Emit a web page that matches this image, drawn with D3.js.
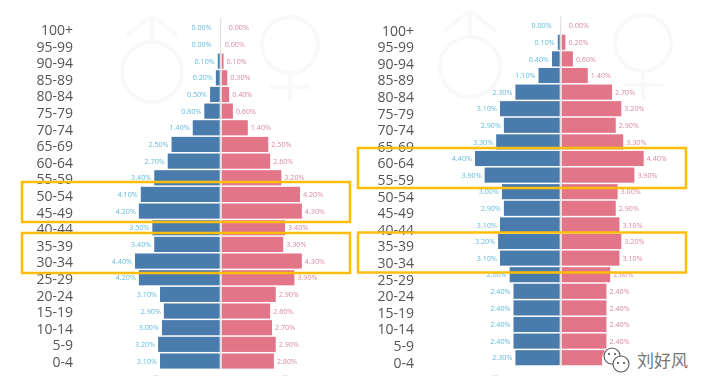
<!DOCTYPE html>
<html lang="en">
<head>
<meta charset="UTF-8">
<title>Population pyramids</title>
<script src="https://d3js.org/d3.v7.min.js"></script>
<style>
  html, body { margin: 0; background: #fff; }
  svg { display: block; font-family: "Open Sans", sans-serif; }
  .age { font-size: 14px; fill: #555; text-anchor: end; }
  .val { font-size: 7.2px; }
</style>
</head>
<body>
<div id="chart"></div>
<script>
var ages = ["100+","95-99","90-94","85-89","80-84","75-79","70-74","65-69","60-64","55-59","50-54",
            "45-49","40-44","35-39","30-34","25-29","20-24","15-19","10-14","5-9","0-4"];

var maleA   = [0,0,0.1,0.2,0.5,0.8,1.4,2.5,2.7,3.4,4.1,4.2,3.5,3.4,4.4,4.2,3.1,2.9,3.0,3.2,3.1];
var femaleA = [0,0,0.1,0.3,0.4,0.6,1.4,2.5,2.6,3.2,4.2,4.3,3.4,3.3,4.3,3.9,2.9,2.6,2.7,2.9,2.8];
var maleB   = [0,0.1,0.4,1.1,2.3,3.1,2.9,3.3,4.4,3.9,3.0,2.9,3.1,3.2,3.1,2.6,2.4,2.4,2.4,2.4,2.3];
var femaleB = [0,0.2,0.6,1.4,2.7,3.2,2.9,3.3,4.4,3.9,3.0,2.9,3.1,3.2,3.1,2.6,2.4,2.4,2.4,2.4,2.3];

var width = 709, height = 392;
var svg = d3.select("#chart").append("svg").attr("width", width).attr("height", height);

var defs = svg.append("defs");
defs.append("filter").attr("id", "soft")
    .append("feGaussianBlur").attr("stdDeviation", 0.45);

var root = svg.append("g").attr("filter", "url(#soft)");

function drawSymbols(g, mx, my, mr, fx, fy, fr) {
    var c = "#f9f9f9";
    var line = function(x1, y1, x2, y2) {
        g.append("line").attr("x1", x1).attr("y1", y1).attr("x2", x2).attr("y2", y2)
            .attr("stroke", c).attr("stroke-width", 4);
    };
    g.append("circle").attr("cx", mx).attr("cy", my).attr("r", mr)
        .attr("fill", "none").attr("stroke", c).attr("stroke-width", 4);
    line(mx, my - mr, mx, my - mr - 26);
    line(mx, my - mr - 26, mx - 26, my - mr - 6);
    line(mx, my - mr - 26, mx + 26, my - mr - 6);
    g.append("circle").attr("cx", fx).attr("cy", fy).attr("r", fr)
        .attr("fill", "none").attr("stroke", c).attr("stroke-width", 4);
    line(fx, fy + fr, fx, fy + fr + 28);
    line(fx - 20, fy + fr + 14, fx + 20, fy + fr + 14);
}

function drawPanel(male, female, o) {
    var g = root.append("g");
    drawSymbols(g, o.sym[0], o.sym[1], o.sym[2], o.sym[3], o.sym[4], o.sym[5]);

    var y = d3.scaleBand().domain(ages)
        .range([o.barTop, o.barTop + o.pitch * ages.length]).paddingInner(0.09).paddingOuter(0.045);
    var yLabel = d3.scalePoint().domain(ages).range([o.labelTop, o.labelTop + 16.6 * 20]);
    var xm = d3.scaleLinear().domain([0, 4.4]).range([o.cx - 1, o.cx - 85.7]);
    var xf = d3.scaleLinear().domain([0, 4.4]).range([o.cx + 1, o.cx + 83]);

    g.append("line").attr("x1", o.cx).attr("x2", o.cx)
        .attr("y1", o.barTop - 1).attr("y2", o.barTop + o.pitch * 21)
        .attr("stroke", "#dcdcdc").attr("stroke-width", 1);

    g.selectAll(".m").data(male).enter().append("rect")
        .attr("x", function(d) { return xm(d); })
        .attr("y", function(d, i) { return y(ages[i]); })
        .attr("width", function(d) { return xm(0) - xm(d); })
        .attr("height", y.bandwidth())
        .attr("fill", "#4a7bad");

    g.selectAll(".f").data(female).enter().append("rect")
        .attr("x", xf(0))
        .attr("y", function(d, i) { return y(ages[i]); })
        .attr("width", function(d) { return xf(d) - xf(0); })
        .attr("height", y.bandwidth())
        .attr("fill", "#e37488");

    g.selectAll(".ml").data(male).enter().append("text")
        .attr("class", "val")
        .attr("x", function(d) { return xm(d) - (d === 0 ? 8 : 3); })
        .attr("y", function(d, i) { return y(ages[i]) + y.bandwidth() / 2 + 2.6; })
        .attr("text-anchor", "end").attr("fill", "#62bcdc")
        .text(function(d) { return d.toFixed(2) + "%"; });

    g.selectAll(".fl").data(female).enter().append("text")
        .attr("class", "val")
        .attr("x", function(d, i) { return xf(d) + (d === 0 && i === 0 ? 7 : 3); })
        .attr("y", function(d, i) { return y(ages[i]) + y.bandwidth() / 2 + 2.6; })
        .attr("fill", "#d98aa6")
        .text(function(d) { return d.toFixed(2) + "%"; });

    g.selectAll(".age").data(ages).enter().append("text")
        .attr("class", "age")
        .attr("x", o.labelX)
        .attr("y", function(d) { return yLabel(d) + 5; })
        .text(function(d) { return d; });

    // cut-off axis labels under the bars
    g.selectAll(".stub").data(o.stubs).enter().append("text")
        .attr("class", "val")
        .attr("x", function(d) { return d; })
        .attr("y", 376)
        .attr("text-anchor", "middle").attr("fill", "#c4c4c4")
        .text("...");
}

drawPanel(maleA, femaleA, { cx: 220.7, barTop: 19.5, pitch: 16.66, labelTop: 30, labelX: 73,
    sym: [152, 72, 30, 290, 45, 28], stubs: [156, 285] });
drawPanel(maleB, femaleB, { cx: 560.7, barTop: 17.4, pitch: 16.6, labelTop: 30.5, labelX: 414,
    sym: [470, 67, 30, 643, 43, 28], stubs: [495] });

// highlight boxes
var boxes = [[22, 182, 328, 40], [22, 233, 328, 40], [358, 148, 328, 40], [358, 232.5, 328, 40]];
root.selectAll(".box").data(boxes).enter().append("rect")
    .attr("x", function(d) { return d[0]; })
    .attr("y", function(d) { return d[1]; })
    .attr("width", function(d) { return d[2]; })
    .attr("height", function(d) { return d[3]; })
    .attr("fill", "none").attr("stroke", "#ffbe0a").attr("stroke-width", 2.5);

// wechat style watermark
var wm = svg.append("g");
wm.append("rect").attr("x", 602).attr("y", 347).attr("width", 32).attr("height", 27)
    .attr("fill", "#fff").attr("rx", 12);
var bubbles = [[612, 356, 8], [621, 364, 8]];
wm.selectAll(".bubble").data(bubbles).enter().append("circle")
    .attr("cx", function(d) { return d[0]; })
    .attr("cy", function(d) { return d[1]; })
    .attr("r", function(d) { return d[2]; })
    .attr("fill", "#fff").attr("stroke", "#555").attr("stroke-width", 1.1);
var eyes = [[609, 354], [615, 354], [618, 363], [624, 363]];
wm.selectAll(".eye").data(eyes).enter().append("circle")
    .attr("cx", function(d) { return d[0]; })
    .attr("cy", function(d) { return d[1]; })
    .attr("r", 1).attr("fill", "#444");
wm.append("text").attr("x", 637).attr("y", 367)
    .attr("font-family", "'Noto Sans CJK SC'").attr("font-size", 17).attr("fill", "#777")
    .text("刘好风");
</script>
</body>
</html>
